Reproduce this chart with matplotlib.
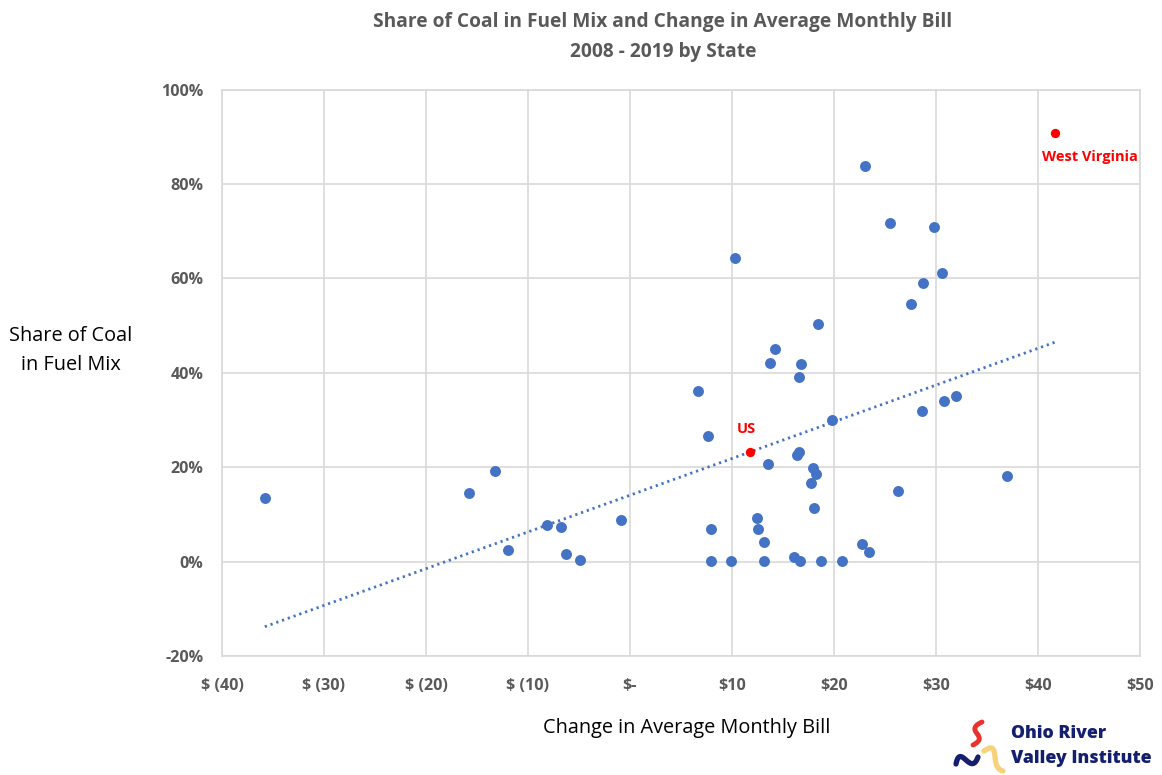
import numpy as np
import matplotlib
matplotlib.use("Agg")
import matplotlib.pyplot as plt
from matplotlib.ticker import FuncFormatter

# ---- data ----
bill_change = [-35.8, -15.8, -13.2, -12.0, -8.1, -6.8, -6.3, -4.9, -0.9,
               6.7, 7.7, 7.9, 7.9, 9.9, 10.3, 12.45, 12.55, 13.1, 13.1,
               13.5, 13.7, 14.2, 16.1, 16.4, 16.6, 16.7, 16.6, 16.8,
               17.75, 17.9, 18.2, 18.0, 18.4, 18.7, 19.8, 20.8, 22.75,
               23.4, 23.0, 25.5, 26.3, 27.6, 28.6, 28.75, 29.8, 30.6,
               30.8, 32.0, 37.0]
coal_share = [13.5, 14.5, 19.2, 2.5, 7.8, 7.4, 1.6, 0.4, 8.8,
              36.2, 26.6, 6.9, 0.1, 0.1, 64.3, 9.2, 6.9, 4.2, 0.1,
              20.6, 42.1, 45.1, 0.9, 22.6, 23.3, 0.1, 39.1, 41.9,
              16.7, 19.8, 18.6, 11.3, 50.4, 0.1, 30.0, 0.1, 3.7,
              2.0, 83.8, 71.8, 15.0, 54.6, 31.9, 59.1, 70.8, 61.1,
              34.0, 35.1, 18.2]
highlight_names = ["US", "West Virginia"]
highlight_bill = [11.8, 41.7]
highlight_coal = [23.3, 90.8]

x_ticks = [-40, -30, -20, -10, 0, 10, 20, 30, 40, 50]
y_ticks = [-20, 0, 20, 40, 60, 80, 100]

# ---- style ----
BLUE = "#4472C4"
GRAY = "#595959"
GRID = "#d9d9d9"
FONT = ["Open Sans", "DejaVu Sans"]
plt.rcParams["font.family"] = FONT

W, H = 1162, 775
fig = plt.figure(figsize=(W / 100, H / 100), dpi=100)
ax = fig.add_axes([0.191, 0.1535, 0.790, 0.7308])

ax.set_xlim(-40, 50)
ax.set_ylim(-20, 100)
ax.set_xticks(x_ticks)
ax.set_yticks(y_ticks)
ax.grid(True, color=GRID, linewidth=1.2)
ax.set_axisbelow(True)
for s in ax.spines.values():
    s.set_color(GRID)
    s.set_linewidth(1.2)
ax.tick_params(length=0)
ax.tick_params(axis="x", pad=16)
ax.tick_params(axis="y", pad=13.5)


def money(v, pos):
    if v == 0:
        return "$-"
    if v < 0:
        return "$ (%d)" % abs(v)
    return "$%d" % v


ax.xaxis.set_major_formatter(FuncFormatter(money))
ax.yaxis.set_major_formatter(FuncFormatter(lambda v, p: "%d%%" % v))
for lab in ax.get_xticklabels() + ax.get_yticklabels():
    lab.set_fontweight("bold")
    lab.set_color(GRAY)
    lab.set_fontsize(11.6)

# trend line (linear fit to the state points)
xs = np.array(bill_change + [highlight_bill[1]])
ys = np.array(coal_share + [highlight_coal[1]])
m, b = np.polyfit(xs, ys, 1)
xl = np.array([min(xs), max(xs)])
ax.plot(xl, m * xl + b, color=BLUE, linewidth=2, linestyle=(0, (0.8, 1.4)),
        zorder=2)

ax.scatter(bill_change, coal_share, s=62, color=BLUE, zorder=3, linewidths=0)
ax.scatter(highlight_bill, highlight_coal, s=45, color="#ff0000", zorder=4,
           linewidths=0)
ax.annotate(highlight_names[0], (highlight_bill[0], highlight_coal[0]),
            xytext=(-3, 11), textcoords="offset points", ha="center",
            va="bottom", color="#ff0000", fontweight="bold", fontsize=10.5)
ax.annotate(highlight_names[1], (highlight_bill[1], highlight_coal[1]),
            xytext=(25, -12), textcoords="offset points", ha="center",
            va="top", color="#ff0000", fontweight="bold", fontsize=10.5)

fig.text(0.5706, 0.952, "Share of Coal in Fuel Mix and Change in Average Monthly Bill\n2008 - 2019 by State",
         ha="center", va="center", fontsize=13.8, fontweight="bold", color=GRAY,
         linespacing=1.7)
fig.text(0.061, 0.548, "Share of Coal\nin Fuel Mix", ha="center", va="center",
         fontsize=14.3, color="black", linespacing=1.6)
fig.text(0.591, 0.061, "Change in Average Monthly Bill", ha="center",
         va="center", fontsize=14.3, color="black")

# logo
NAVY = "#14206e"
fig.text(1011 / W, 1 - 746 / H, "Ohio River\nValley Institute", ha="left",
         va="center", fontsize=12.7, fontweight="heavy", color=NAVY,
         linespacing=1.55)


def squiggle(px, py, color, lw):
    px = np.array(px, float)
    py = np.array(py, float)
    t = np.linspace(0, 1, len(px))
    tt = np.linspace(0, 1, 60)
    cx = np.polyval(np.polyfit(t, px, len(px) - 1), tt)
    cy = np.polyval(np.polyfit(t, py, len(py) - 1), tt)
    fig.add_artist(plt.Line2D(cx / W, 1 - cy / H, transform=fig.transFigure,
                              color=color, linewidth=lw,
                              solid_capstyle="round"))


squiggle([982, 975, 979, 973], [722, 730, 737, 745], "#e8322b", 3.5)
squiggle([984, 993, 995, 997, 1003], [751, 749, 757, 766, 771], "#f6d27a", 3.8)
squiggle([956, 962, 970, 978], [764, 757, 763, 757], NAVY, 3.8)

fig.savefig("out.png", dpi=100)
